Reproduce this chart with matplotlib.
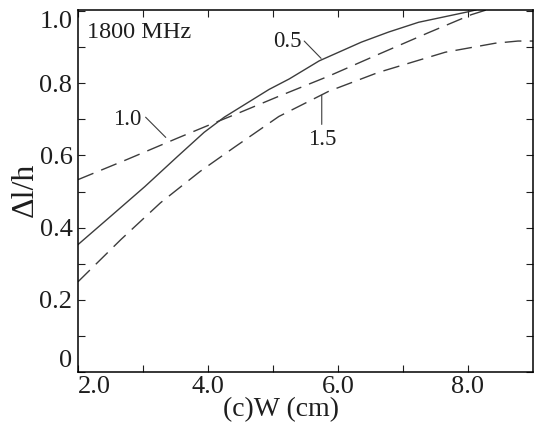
import matplotlib.pyplot as plt

plt.rcParams['font.family'] = ['Liberation Serif', 'DejaVu Serif']
plt.rcParams['text.color'] = '#1e1e1e'
plt.rcParams['xtick.color'] = '#1e1e1e'
plt.rcParams['ytick.color'] = '#1e1e1e'

# curve data (W in cm, delta l / h)
w_05 = [2.0, 2.5, 3.03, 3.53, 3.94, 4.25, 4.94, 5.25, 5.71, 6.36, 6.78, 7.24, 8.0, 8.12]
dl_05 = [0.353, 0.431, 0.514, 0.597, 0.664, 0.706, 0.783, 0.812, 0.862, 0.914, 0.942, 0.969, 0.998, 1.003]

w_10 = [2.0, 2.77, 3.53, 4.04, 4.45, 5.09, 5.86, 6.62, 7.39, 8.05, 8.28]
dl_10 = [0.533, 0.59, 0.648, 0.686, 0.716, 0.764, 0.82, 0.88, 0.94, 0.99, 1.003]

w_15 = [2.0, 2.66, 3.27, 3.88, 4.4, 5.09, 5.86, 6.62, 7.65, 8.42, 8.77, 9.0]
dl_15 = [0.25, 0.367, 0.469, 0.556, 0.622, 0.708, 0.778, 0.83, 0.886, 0.911, 0.917, 0.917]

xticks = [2.0, 4.0, 6.0, 8.0]
xtick_labels = ['2.0', '4.0', '6.0', '8.0']
yticks = [0, 0.2, 0.4, 0.6, 0.8, 1.0]
ytick_labels = ['0', '0.2', '0.4', '0.6', '0.8', '1.0']

fig = plt.figure(figsize=(5.42, 4.25), dpi=100)
ax = fig.add_axes([78 / 542, 1 - 372 / 425, (533 - 78) / 542, (372 - 10) / 425])

line_col = '#3c3c3c'
ax.plot(w_05, dl_05, color=line_col, lw=1.0)
ax.plot(w_10, dl_10, color=line_col, lw=1.0, dashes=(12, 6))
ax.plot(w_15, dl_15, color=line_col, lw=1.0, dashes=(12, 6))

ax.set_xlim(2.0, 9.0)
ax.set_ylim(0, 1.003)
ax.set_xticks(xticks)
ax.set_xticklabels(xtick_labels)
ax.set_xticks([3.0, 5.0, 7.0], minor=True)
ax.set_yticks(yticks)
ax.set_yticklabels(ytick_labels)
ax.set_yticks([0.1, 0.3, 0.5, 0.7, 0.9], minor=True)
ax.tick_params(which='both', direction='in', length=5, width=0.8,
               top=True, right=True, labelsize=19)
ax.tick_params(axis='x', pad=3)
ax.tick_params(axis='y', pad=4)
ax.get_xticklabels()[0].set_horizontalalignment('left')
ylabs = ax.get_yticklabels()
ylabs[0].set_verticalalignment('bottom')
ylabs[-1].set_verticalalignment('top')
for s in ax.spines.values():
    s.set_linewidth(1.1)

fig.text(281 / 542, 1 - 410 / 425, '(c)W (cm)', fontsize=20, ha='center', va='center')
fig.text(25 / 542, 1 - 190 / 425, 'Δl/h', fontsize=23, rotation=90, ha='center', va='center')

ax.text(2.14, 0.942, '1800 MHz', fontsize=17.5, va='center', ha='left')

# curve labels with leader lines
lead = dict(arrowstyle='-', color=line_col, lw=0.8, shrinkA=0, shrinkB=0)
ax.text(5.22, 0.917, '0.5', fontsize=16.5, ha='center', va='center')
ax.annotate('', xy=(5.74, 0.869), xytext=(5.48, 0.917), arrowprops=lead)
ax.text(2.75, 0.70, '1.0', fontsize=16.5, ha='center', va='center')
ax.annotate('', xy=(3.35, 0.65), xytext=(3.04, 0.706), arrowprops=lead)
ax.text(5.75, 0.644, '1.5', fontsize=16.5, ha='center', va='center')
ax.annotate('', xy=(5.75, 0.767), xytext=(5.75, 0.686), arrowprops=lead)

fig.savefig('out.png', dpi=100)
